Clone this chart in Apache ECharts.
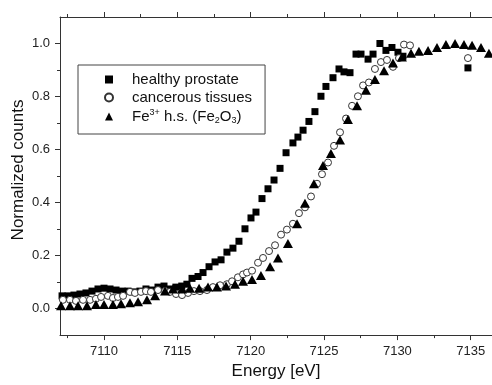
<!DOCTYPE html>
<html>
<head>
<meta charset="utf-8">
<script src="https://cdn.jsdelivr.net/npm/echarts@6/dist/echarts.min.js"></script>
<style>
  html, body { margin: 0; padding: 0; background: #fff; }
  #container { width: 492px; height: 385px; }
</style>
</head>
<body>
<div id="container"></div>
<script>
// values
var healthyEnergy = [7107.14, 7107.55, 7107.95, 7108.36, 7108.77, 7109.18, 7109.59, 7110.00, 7110.41, 7110.82,
    7111.23, 7111.64, 7112.05, 7112.45, 7112.86, 7113.27, 7113.68, 7114.09, 7114.50, 7114.90,
    7115.30, 7115.65, 7116.00, 7116.41, 7116.75, 7117.16, 7117.57, 7117.98, 7118.38, 7118.79,
    7119.20, 7119.61, 7120.02, 7120.36, 7120.77, 7121.18, 7121.59, 7122.00, 7122.41, 7122.88,
    7123.22, 7123.57, 7123.97, 7124.38, 7124.79, 7125.13, 7125.61, 7126.02, 7126.36, 7126.77,
    7127.18, 7127.52, 7128.00, 7128.34, 7128.81, 7129.22, 7129.63, 7130.04, 7130.38, 7134.81];
var healthyCounts = [0.048, 0.048, 0.051, 0.055, 0.059, 0.066, 0.074, 0.077, 0.074, 0.070,
    0.066, 0.066, 0.063, 0.066, 0.074, 0.070, 0.081, 0.085, 0.074, 0.081,
    0.085, 0.092, 0.114, 0.121, 0.136, 0.158, 0.176, 0.184, 0.213, 0.228,
    0.254, 0.301, 0.342, 0.364, 0.415, 0.452, 0.485, 0.529, 0.588, 0.625,
    0.647, 0.673, 0.706, 0.743, 0.801, 0.838, 0.871, 0.904, 0.893, 0.890,
    0.960, 0.960, 0.941, 0.960, 1.000, 0.974, 0.985, 0.967, 0.952, 0.908];

var cancerEnergy = [7107.20, 7107.68, 7108.09, 7108.57, 7109.05, 7109.45, 7109.80, 7110.27, 7110.61, 7110.95,
    7111.30, 7111.77, 7112.11, 7112.52, 7112.86, 7113.20, 7113.68, 7114.16, 7114.50, 7114.91,
    7115.32, 7115.73, 7116.13, 7116.54, 7117.02, 7117.43, 7117.91, 7118.38, 7118.73, 7119.13,
    7119.48, 7119.75, 7120.09, 7120.50, 7120.84, 7121.25, 7121.66, 7122.07, 7122.47, 7122.88,
    7123.29, 7123.70, 7124.11, 7124.52, 7124.86, 7125.27, 7125.68, 7126.09, 7126.50, 7126.91,
    7127.31, 7127.66, 7128.06, 7128.47, 7128.88, 7129.29, 7129.70, 7130.11, 7130.45, 7130.86, 7134.81];
var cancerCounts = [0.033, 0.033, 0.029, 0.033, 0.033, 0.037, 0.044, 0.048, 0.040, 0.044,
    0.048, 0.063, 0.059, 0.063, 0.066, 0.063, 0.070, 0.066, 0.063, 0.055,
    0.051, 0.059, 0.066, 0.066, 0.070, 0.081, 0.088, 0.092, 0.103, 0.118,
    0.129, 0.136, 0.143, 0.173, 0.191, 0.217, 0.239, 0.279, 0.298, 0.320,
    0.360, 0.382, 0.423, 0.471, 0.507, 0.551, 0.614, 0.665, 0.717, 0.765,
    0.801, 0.842, 0.853, 0.904, 0.930, 0.938, 0.912, 0.945, 0.996, 0.993, 0.945];

var feEnergy = [7107.07, 7107.68, 7108.23, 7108.84, 7109.45, 7110.00, 7110.61, 7111.16, 7111.77, 7112.32,
    7112.93, 7113.48, 7114.16, 7114.70, 7115.32, 7115.86, 7116.48, 7117.09, 7117.70, 7118.32,
    7118.93, 7119.48, 7120.09, 7120.70, 7121.32, 7121.86, 7122.54, 7123.16, 7123.70, 7124.31,
    7124.93, 7125.47, 7126.09, 7126.63, 7127.25, 7127.86, 7128.47, 7129.09, 7129.70, 7130.31,
    7130.93, 7131.47, 7132.09, 7132.70, 7133.31, 7133.93, 7134.54, 7135.09, 7135.70, 7136.24];
var feCounts = [0.011, 0.011, 0.011, 0.011, 0.015, 0.015, 0.015, 0.018, 0.022, 0.026,
    0.033, 0.048, 0.066, 0.074, 0.074, 0.077, 0.077, 0.081, 0.081, 0.085,
    0.092, 0.103, 0.110, 0.125, 0.158, 0.191, 0.246, 0.320, 0.397, 0.471,
    0.540, 0.585, 0.636, 0.713, 0.765, 0.824, 0.864, 0.897, 0.926, 0.949,
    0.963, 0.971, 0.974, 0.985, 0.996, 1.000, 0.996, 0.993, 0.985, 0.963];

var seriesNames = ['healthy prostate', 'cancerous tissues', 'Fe3+ h.s. (Fe2O3)'];

var xMajorTicks = [7110, 7115, 7120, 7125, 7130, 7135];
var xMinorTicks = [7107.5, 7112.5, 7117.5, 7122.5, 7127.5, 7132.5];
var yMajorTicks = [0, 0.2, 0.4, 0.6, 0.8, 1.0];
var yMinorTicks = [0.1, 0.3, 0.5, 0.7, 0.9];

function pairs(xs, ys) {
    return xs.map(function (x, i) { return [x, ys[i]]; });
}

window.onload = function () {
    const dom = document.getElementById("container");
    const myChart = echarts.init(dom, null, { renderer: 'canvas' });
    const font = '"Liberation Sans", Arial, sans-serif';
    const axisColor = '#333';
    const xMin = 7107, xMax = 7136.45;

    function xAxisDef(position, ticks, len, withLine, withLabels) {
        return {
            type: 'value', position: position, min: xMin, max: xMax,
            axisLine: { show: withLine, onZero: false, lineStyle: { color: axisColor, width: 1 } },
            axisTick: { show: true, customValues: ticks, length: len, inside: false, lineStyle: { color: axisColor } },
            axisLabel: withLabels ? {
                show: true, customValues: ticks, margin: 10, color: '#222',
                fontFamily: font, fontSize: 13,
                formatter: function (v) { return String(v); }
            } : { show: false },
            splitLine: { show: false }
        };
    }
    function yAxisDef(ticks, len, withLine, withLabels) {
        return {
            type: 'value', position: 'left', min: -0.1, max: 1.1,
            axisLine: { show: withLine, onZero: false, lineStyle: { color: axisColor, width: 1 } },
            axisTick: { show: true, customValues: ticks, length: len, inside: false, lineStyle: { color: axisColor } },
            axisLabel: withLabels ? {
                show: true, customValues: ticks, margin: 10, color: '#222',
                fontFamily: font, fontSize: 13,
                formatter: function (v) { return v.toFixed(1); }
            } : { show: false },
            splitLine: { show: false }
        };
    }

    const option = {
        animation: false,
        backgroundColor: '#fff',
        grid: { left: 60, top: 17, right: 0, bottom: 43, containLabel: false },
        legend: {
            orient: 'vertical', left: 78, top: 65,
            padding: [7, 13, 9, 26],
            itemWidth: 8, itemHeight: 8, itemGap: 3,
            borderColor: '#444', borderWidth: 1,
            data: seriesNames,
            formatter: function (name) {
                if (name === seriesNames[2]) {
                    return '{f|Fe}{sup|3+}{n| h.s. (Fe}{sub|2}{n|O}{sub|3}{n|)}';
                }
                return '{f|' + name + '}';
            },
            textStyle: {
                fontFamily: font, fontSize: 15, color: '#111',
                rich: {
                    f: { fontFamily: font, fontSize: 15, color: '#111', lineHeight: 17, padding: [0, 0, 0, 14] },
                    n: { fontFamily: font, fontSize: 15, color: '#111', lineHeight: 17 },
                    sup: { fontFamily: font, fontSize: 9, color: '#111', verticalAlign: 'top', lineHeight: 10 },
                    sub: { fontFamily: font, fontSize: 9, color: '#111', verticalAlign: 'bottom', lineHeight: 10 }
                }
            }
        },
        xAxis: [
            Object.assign(xAxisDef('bottom', xMajorTicks, 5, true, true), {
                name: 'Energy [eV]', nameLocation: 'middle', nameGap: 23,
                nameTextStyle: { fontFamily: font, fontSize: 17, color: '#111' }
            }),
            xAxisDef('bottom', xMinorTicks, 3, false, false),
            xAxisDef('top', xMajorTicks, 5, true, false),
            xAxisDef('top', xMinorTicks, 3, false, false)
        ],
        yAxis: [
            yAxisDef(yMajorTicks, 5, true, true),
            yAxisDef(yMinorTicks, 3, false, false)
        ],
        graphic: [{
            type: 'text', x: 18, y: 170, rotation: Math.PI / 2,
            style: {
                text: 'Normalized counts', fill: '#111', font: '17px ' + font,
                align: 'center', verticalAlign: 'middle'
            }
        }],
        series: [{
            name: seriesNames[0], type: 'scatter', xAxisIndex: 0, yAxisIndex: 0,
            symbol: 'rect', symbolSize: 7,
            itemStyle: { color: '#000', opacity: 1 },
            data: pairs(healthyEnergy, healthyCounts)
        }, {
            name: seriesNames[1], type: 'scatter', xAxisIndex: 0, yAxisIndex: 0,
            symbol: 'circle', symbolSize: 7,
            itemStyle: { color: '#fff', borderColor: '#333', borderWidth: 1, opacity: 1 },
            data: pairs(cancerEnergy, cancerCounts)
        }, {
            name: seriesNames[2], type: 'scatter', xAxisIndex: 0, yAxisIndex: 0,
            symbol: 'triangle', symbolSize: [10, 9],
            itemStyle: { color: '#000', opacity: 1 },
            data: pairs(feEnergy, feCounts)
        }]
    };

    myChart.setOption(option);
};
</script>
</body>
</html>
